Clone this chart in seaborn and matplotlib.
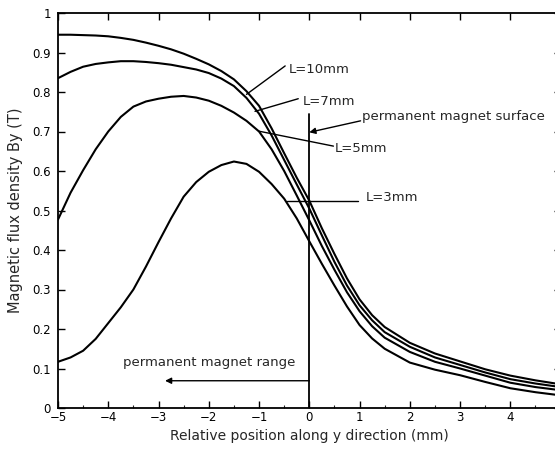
import numpy as np
import pandas as pd
import matplotlib
matplotlib.use("Agg")
import matplotlib.pyplot as plt
import seaborn as sns

# ---- data ----
x_pos = [-5, -4.75, -4.5, -4.25, -4, -3.75, -3.5, -3.25, -3, -2.75, -2.5, -2.25,
         -2, -1.75, -1.5, -1.25, -1, -0.75, -0.5, -0.25, 0, 0.25, 0.5, 0.75,
         1, 1.25, 1.5, 2, 2.5, 3, 3.5, 4, 4.5, 5]
by_L10 = [0.945, 0.945, 0.944, 0.943, 0.941, 0.937, 0.932, 0.925, 0.917, 0.908, 0.897, 0.884,
          0.870, 0.853, 0.832, 0.802, 0.765, 0.708, 0.645, 0.583, 0.525, 0.455, 0.390, 0.328,
          0.275, 0.235, 0.205, 0.165, 0.138, 0.118, 0.098, 0.082, 0.070, 0.060]
by_L7 = [0.835, 0.851, 0.864, 0.871, 0.875, 0.878, 0.878, 0.876, 0.873, 0.869, 0.863, 0.857,
         0.848, 0.834, 0.815, 0.785, 0.745, 0.690, 0.628, 0.566, 0.505, 0.437, 0.370, 0.310,
         0.260, 0.222, 0.192, 0.155, 0.128, 0.109, 0.090, 0.073, 0.062, 0.053]
by_L5 = [0.477, 0.545, 0.602, 0.655, 0.700, 0.737, 0.763, 0.776, 0.783, 0.788, 0.790, 0.786,
         0.778, 0.765, 0.748, 0.727, 0.700, 0.655, 0.600, 0.538, 0.475, 0.410, 0.350, 0.293,
         0.245, 0.207, 0.178, 0.142, 0.117, 0.100, 0.082, 0.064, 0.053, 0.045]
by_L3 = [0.117, 0.128, 0.145, 0.175, 0.215, 0.255, 0.300, 0.358, 0.420, 0.480, 0.535, 0.572,
         0.598, 0.615, 0.624, 0.618, 0.598, 0.567, 0.530, 0.480, 0.422, 0.365, 0.310, 0.257,
         0.210, 0.176, 0.150, 0.115, 0.097, 0.083, 0.066, 0.050, 0.040, 0.032]
series_names = ["L=10mm", "L=7mm", "L=5mm", "L=3mm"]

x_ticks = [-5, -4, -3, -2, -1, 0, 1, 2, 3, 4, 5]
x_ticklabels = ["\u22125", "\u22124", "\u22123", "\u22122", "\u22121", "0", "1", "2", "3", "4", "5"]
y_ticks = [0, 0.1, 0.2, 0.3, 0.4, 0.5, 0.6, 0.7, 0.8, 0.9, 1.0]
y_ticklabels = ["0", "0.1", "0.2", "0.3", "0.4", "0.5", "0.6", "0.7", "0.8", "0.9", "1"]

frames = []
for name, vals in zip(series_names, [by_L10, by_L7, by_L5, by_L3]):
    frames.append(pd.DataFrame({"x": x_pos, "By": vals, "L": name}))
df = pd.concat(frames, ignore_index=True)

sns.set_style("ticks")
plt.rcParams['font.family'] = ['DejaVu Sans']

fig = plt.figure(figsize=(5.55, 4.51), dpi=100)
ax = fig.add_axes([58 / 555, 1 - 408 / 451, 502.6 / 555, 395 / 451])

sns.lineplot(data=df, x="x", y="By", hue="L", palette=["black"] * 4,
             legend=False, ax=ax, linewidth=1.5, sort=True)

ax.set_xlim(-5, 5)
ax.set_ylim(0, 1)
ax.set_xticks(x_ticks)
ax.set_xticklabels(x_ticklabels)
ax.set_yticks(y_ticks)
ax.set_yticklabels(y_ticklabels)
ax.set_xticks(np.arange(-5, 5.01, 0.5), minor=True)
for s in ax.spines.values():
    s.set_visible(True)
    s.set_linewidth(1.3)
    s.set_color("black")
ax.tick_params(axis="both", which="major", direction="in", length=5, width=1.0,
               labelsize=8.5, top=True, right=True, pad=2, colors="black")
ax.tick_params(axis="y", which="major", pad=5)
ax.tick_params(axis="x", which="minor", direction="in", length=2.5, width=0.8, top=False)
ax.set_xlabel("Relative position along y direction (mm)", fontsize=10, labelpad=4)
ax.set_ylabel("Magnetic flux density By (T)", fontsize=10.5, labelpad=7)

# surface line at x=0
ax.plot([0, 0], [0, 0.744], color="black", lw=1.3)

fs = 9.5
# L=10mm
ax.plot([-1.25, -0.48], [0.794, 0.866], color="black", lw=1.0)
ax.text(-0.40, 0.858, "L=10mm", fontsize=fs, va="center", ha="left")
# L=7mm
ax.plot([-1.08, -0.22], [0.751, 0.783], color="black", lw=1.0)
ax.text(-0.14, 0.776, "L=7mm", fontsize=fs, va="center", ha="left")
# permanent magnet surface
ax.annotate("", xy=(0.0, 0.698), xytext=(1.02, 0.727),
            arrowprops=dict(arrowstyle="-|>", color="black", lw=1.0,
                            mutation_scale=9, shrinkA=0, shrinkB=0))
ax.text(1.04, 0.737, "permanent magnet surface", fontsize=fs, va="center", ha="left")
# L=5mm
ax.plot([-1.01, 0.48], [0.701, 0.663], color="black", lw=1.0)
ax.text(0.50, 0.656, "L=5mm", fontsize=fs, va="center", ha="left")
# L=3mm
ax.plot([-0.45, 0.97], [0.525, 0.525], color="black", lw=1.0)
ax.text(1.13, 0.534, "L=3mm", fontsize=fs, va="center", ha="left")
# permanent magnet range
ax.annotate("", xy=(-2.87, 0.069), xytext=(0.0, 0.069),
            arrowprops=dict(arrowstyle="-|>", color="black", lw=1.0,
                            mutation_scale=9, shrinkA=0, shrinkB=0))
ax.text(-3.71, 0.114, "permanent magnet range", fontsize=fs, va="center", ha="left")

fig.savefig("out.png", dpi=100)
